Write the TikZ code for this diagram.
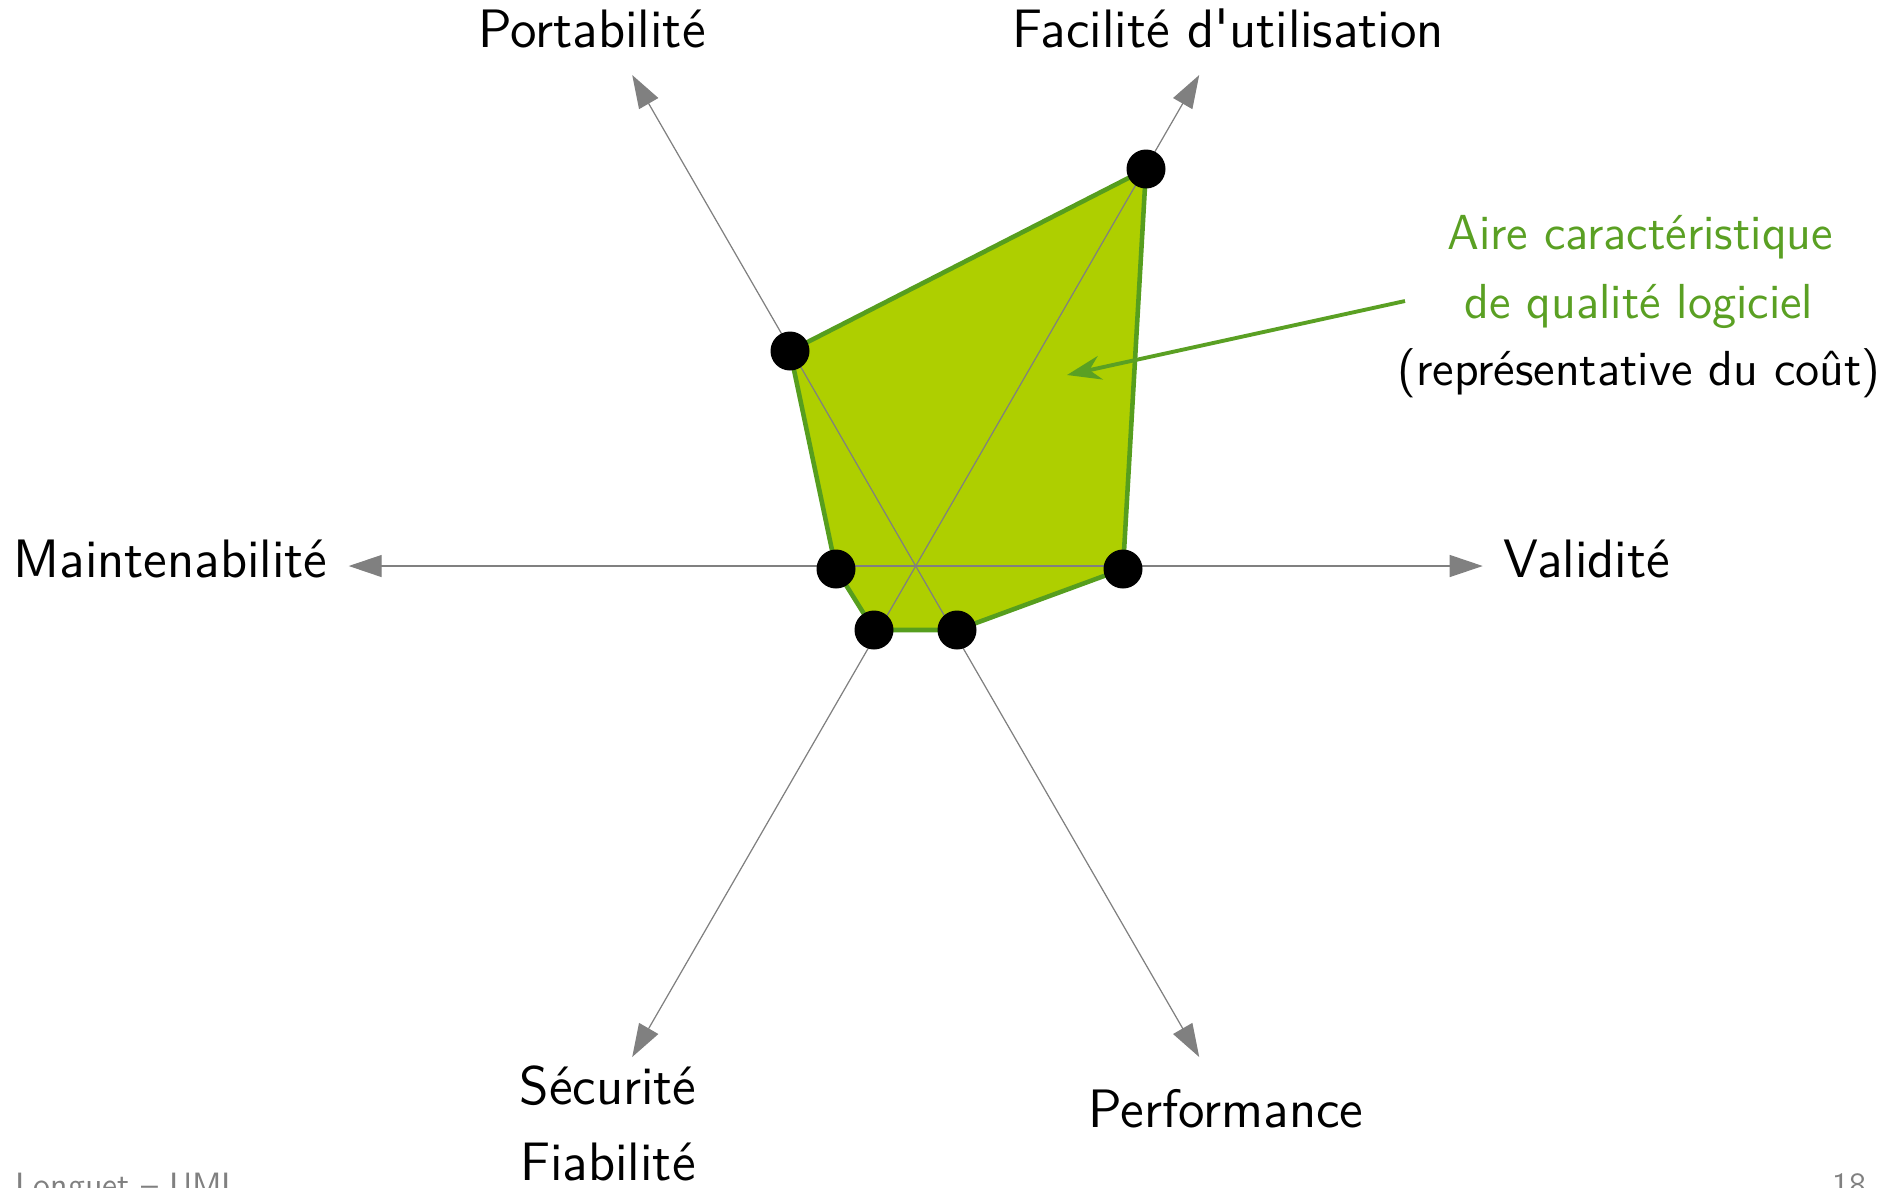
\documentclass[tikz,border=0pt]{standalone}
\usepackage{fontspec}
\usetikzlibrary{arrows.meta}
\definecolor{areafill}{RGB}{174,207,0}
\definecolor{areaedge}{RGB}{86,158,30}
\definecolor{annotgreen}{RGB}{90,160,35}
\definecolor{axisgray}{RGB}{128,128,128}
\begin{document}
\begin{tikzpicture}[x=0.1mm,y=-0.1mm,
  axis/.style={draw=axisgray,line width=0.35pt,-{Triangle[length=3.3mm,width=2.2mm]},color=axisgray},
  axlabel/.style={font=\sffamily\fontsize{15.4}{18}\selectfont,inner sep=0pt},
  annot/.style={font=\sffamily\fontsize{14.0}{16}\selectfont,inner sep=0pt,anchor=base},
  dot/.style={circle,fill=black,minimum size=3.9mm,inner sep=0pt},
  area/.style={fill=areafill,draw=areaedge,line width=1.3pt,line join=round},
  foot/.style={font=\sffamily\fontsize{9.6}{11}\selectfont,text=axisgray,inner sep=0pt,anchor=base west}]
\useasboundingbox (0,0) rectangle (1903,1187);
% centre and axis tips
\coordinate (O) at (915.7,566);
\coordinate (tE) at (1482.7,566);
\coordinate (tNE) at (1199.2,75);
\coordinate (tNW) at (632.2,75);
\coordinate (tW) at (348.7,566);
\coordinate (tSW) at (632.2,1057);
\coordinate (tSE) at (1199.2,1057);
% polygon vertices
\coordinate (vV) at (1123,569);
\coordinate (vF) at (1146,169);
\coordinate (vP) at (790,351);
\coordinate (vM) at (836,569);
\coordinate (vS) at (874,630);
\coordinate (vPf) at (957,630);
% quality area
\path[area] (vV) -- (vF) -- (vP) -- (vM) -- (vS) -- (vPf) -- cycle;
% axes
\draw[axis] (O) -- (tE);
\draw[axis] (O) -- (tNE);
\draw[axis] (O) -- (tNW);
\draw[axis] (O) -- (tW);
\draw[axis] (O) -- (tSW);
\draw[axis] (O) -- (tSE);
% dots
\node[dot] (dV) at (vV) {};
\node[dot] (dF) at (vF) {};
\node[dot] (dP) at (vP) {};
\node[dot] (dM) at (vM) {};
\node[dot] (dS) at (vS) {};
\node[dot] (dPf) at (vPf) {};
% axis labels
\node[axlabel,anchor=base] (lP) at (592,47) {Portabilité};
\node[axlabel,anchor=base] (lF) at (1228,47) {Facilité d\textquotesingle utilisation};
\node[axlabel,anchor=base east] (lM) at (328,577) {Maintenabilité};
\node[axlabel,anchor=base west] (lV) at (1503,577) {Validité};
\node[axlabel,anchor=base] (lS) at (608,1104) {Sécurité};
\node[axlabel,anchor=base] (lFi) at (608,1180) {Fiabilité};
\node[axlabel,anchor=base] (lPf) at (1226,1127) {Performance};
% annotation
\node[annot,text=annotgreen] (a1) at (1640,249) {Aire caractéristique};
\node[annot,text=annotgreen] (a2) at (1639,318) {de qualité logiciel};
\node[annot] (a3) at (1639,385) {(représentative du coût)};
\coordinate (aStart) at (1405,301);
\coordinate (aEnd) at (1067,375);
\draw[annotgreen,line width=1.1pt,-{Stealth[length=3.4mm,width=2.4mm]}] (aStart) -- (aEnd);
% footer
\node[foot] (footL) at (15,1196) {Longuet -- UML};
\node[foot,anchor=base east] (pnum) at (1867,1196) {18};
\end{tikzpicture}
\end{document}
